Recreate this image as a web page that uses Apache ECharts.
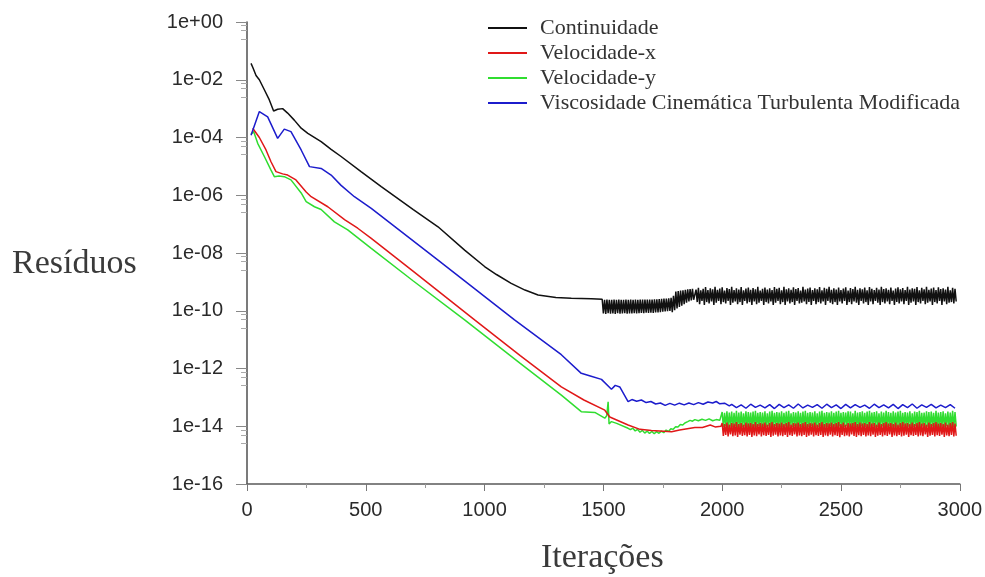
<!DOCTYPE html>
<html>
<head>
<meta charset="utf-8">
<script src="https://cdn.jsdelivr.net/npm/echarts@6/dist/echarts.min.js"></script>
<style>html,body{margin:0;padding:0;background:#fff}#chart{width:985px;height:577px}</style>
</head>
<body>
<div id="chart"></div>
<script>
// ---------- DATA ----------
const seriesNames = ['Continuidade', 'Velocidade-x', 'Velocidade-y', 'Viscosidade Cinemática Turbulenta Modificada'];
const xTicks = [0, 500, 1000, 1500, 2000, 2500, 3000];

// Continuidade
const contEarly = [[17,3.7e-2],[25,2.6e-2],[38,1.4e-2],[52,1.0e-2],[73,4.5e-3],[94,2.0e-3],[112,8.3e-4],[129,9.5e-4],[150,1.0e-3],[171,7.0e-4],[199,4.0e-4],[228,2.1e-4],[256,1.4e-4],[312,7.2e-5],[354,3.9e-5],[396,2.2e-5],[480,6.6e-6],[565,2.0e-6],[700,3.2e-7],[804,8.1e-8],[916,1.26e-8],[1000,3.4e-9],[1050,1.8e-9],[1112,8.9e-10],[1170,5.2e-10],[1225,3.5e-10],[1300,2.9e-10],[1365,2.7e-10],[1450,2.6e-10],[1495,2.5e-10]];
// iterations 1500..1795, every 5 (values ×1e-10)
const contBandA = [0.80,2.4,0.78,2.45,0.82,2.4,0.79,2.38,0.81,2.42,
  0.78,2.4,0.83,2.44,0.79,2.4,0.80,2.38,0.82,2.42,
  0.79,2.4,0.81,2.45,0.80,2.4,0.83,2.42,0.81,2.4,
  0.82,2.44,0.84,2.42,0.82,2.45,0.85,2.43,0.84,2.46,
  0.86,2.45,0.84,2.48,0.87,2.5,0.88,2.55,0.90,2.6,
  0.92,2.62,0.94,2.65,0.96,2.7,0.98,2.8,0.90,3.3];
// iterations 1800..1880, every 5 (×1e-10)
const contRamp = [1.05,4.6,1.2,4.8,1.35,5.0,1.5,5.1,1.7,5.3,1.9,5.5,2.1,5.6,2.3,5.8,2.4];
// iterations 1890..2985, every 5 (×1e-10)
const contBandC = [5.4,2.0,6.2,1.7,5.1,2.2,5.8,1.6,6.6,2.0,5.2,1.8,6.0,2.1,5.5,1.6,6.7,1.9,5.3,2.2,
  5.9,1.7,6.5,2.0,5.0,1.8,6.1,2.2,5.6,1.6,6.8,1.9,5.2,2.1,6.0,1.7,5.4,2.0,6.6,1.6,
  5.1,2.2,5.9,1.8,6.4,2.0,5.3,1.6,6.1,2.1,5.5,1.7,6.7,1.9,5.0,2.2,5.8,1.6,6.3,2.0,
  5.4,1.8,6.0,2.1,5.2,1.6,6.6,1.9,5.7,2.2,6.2,1.7,5.1,2.0,6.8,1.6,5.5,2.1,6.0,1.8,
  5.3,2.0,6.5,1.6,5.6,2.2,6.1,1.8,5.0,1.9,6.7,2.1,5.4,1.7,5.9,2.0,6.3,1.6,5.2,2.2,
  6.0,1.7,5.5,2.0,6.6,1.8,5.1,2.1,6.2,1.6,5.7,2.2,6.8,1.9,5.3,1.7,6.0,2.0,5.4,1.6,
  6.4,2.1,5.2,1.8,5.9,2.2,6.5,1.6,5.0,2.0,6.1,1.7,5.6,2.1,6.7,1.9,5.3,1.6,6.0,2.2,
  5.5,1.8,6.3,2.0,5.1,1.6,6.6,2.1,5.8,1.7,5.2,2.2,6.2,1.9,5.4,1.6,6.8,2.0,5.6,1.8,
  6.0,2.1,5.3,1.7,6.4,2.2,5.0,1.6,5.9,2.0,6.5,1.8,5.5,2.1,6.1,1.7,5.2,2.2,6.7,1.6,
  5.4,1.9,6.0,2.1,5.7,1.6,6.6,2.0,5.1,1.8,6.2,2.2,5.5,1.7,6.8,1.9,5.3,2.1,5.9,1.6,
  6.3,2.0,5.2,1.8,6.5,2.2,5.6,1.6,6.0,2.1,5.4,1.7,6.7,1.9,5.1,2.0,6.2,1.8,5.8,2.1];

// Velocidade-x
const velXEarly = [[24,2.1e-4],[31,2.2e-4],[52,1.0e-4],[80,3.7e-5],[101,1.45e-5],[122,6.6e-6],[150,5.5e-6],[171,5.0e-6],[206,3.4e-6],[249,1.3e-6],[270,8.9e-7],[340,4.0e-7],[412,1.4e-7],[466,7.2e-8],[523,3.2e-8],[700,2.3e-9],[958,4.8e-11],[1150,2.8e-12],[1323,2.3e-13],[1418,8.1e-14],[1506,3.6e-14],[1527,2.1e-14],[1604,1.1e-14],[1654,7.8e-15],[1702,7.1e-15],[1787,6.5e-15],[1821,7.4e-15],[1885,9.1e-15],[1917,9.0e-15],[1950,1.1e-14],[1970,9.5e-15],[1995,1.0e-14]];
// iterations 2000..2985, every 5 (×1e-15)
const velXBand = [13,4.6,12,5.0,13.5,4.4,11.5,5.2,13,4.5,12.5,4.8,14,4.3,12,5.1,13,4.6,11.5,4.9,
  13.5,4.4,12.5,5.0,13,4.3,12,4.8,14,4.5,12,5.2,13,4.4,12.5,4.9,13.5,4.6,11.5,5.0,
  13,4.3,14,4.7,12,5.1,13,4.4,12.5,4.8,13.5,4.5,12,5.0,13,4.3,14,4.9,11.5,4.6,
  13,5.2,12.5,4.4,13.5,4.8,12,4.5,13,5.0,14,4.3,12,4.7,13,5.1,12.5,4.4,13.5,4.9,
  11.5,4.6,13,5.0,14,4.3,12,4.8,13,4.5,12.5,5.1,13.5,4.4,12,4.9,13,4.6,14,4.2,
  12,5.0,13.5,4.5,11.5,4.8,13,4.4,12.5,5.2,13,4.6,14,4.3,12,4.9,13.5,4.5,12.5,5.0,
  13,4.4,12,4.8,14,4.5,12.5,5.1,13,4.3,11.5,4.7,13.5,5.0,12,4.4,13,4.9,14,4.6,
  12.5,5.2,13,4.3,12,4.8,13.5,4.5,11.5,5.0,13,4.4,14,4.7,12.5,5.1,13,4.3,12,4.9,
  13.5,4.6,12,5.0,13,4.4,14,4.8,12.5,4.5,13,5.2,11.5,4.3,13.5,4.7,12,5.0,13,4.4,
  14,4.9,12.5,4.6,13,5.1,12,4.3,13.5,4.8,11.5,4.5,13,5.0,14,4.4,12.5,4.7];

// Velocidade-y
const velYEarly = [[17,1.3e-4],[28,1.6e-4],[45,6.3e-5],[73,2.2e-5],[101,7.4e-6],[115,4.4e-6],[135,4.6e-6],[157,4.4e-6],[185,3.4e-6],[228,1.2e-6],[249,6.0e-7],[284,4.0e-7],[312,3.2e-7],[368,1.2e-7],[424,6.3e-8],[523,1.45e-8],[700,1.07e-9],[916,4.8e-11],[1150,1.5e-12],[1323,1.2e-13],[1407,3.2e-14],[1464,3.0e-14],[1506,1.9e-14],[1514,2.3e-14],[1520,7.0e-14],[1524,1.2e-14],[1534,1.45e-14],[1556,1.26e-14],[1604,8.5e-15],
  [1614,7.6e-15],[1624,8.6e-15],[1634,6.9e-15],[1644,7.8e-15],[1654,6.2e-15],[1664,7.2e-15],[1674,5.8e-15],[1684,6.8e-15],[1694,5.6e-15],[1704,6.6e-15],[1714,5.5e-15],[1724,6.5e-15],[1734,5.7e-15],[1744,6.8e-15],[1754,6.0e-15],[1764,7.4e-15],[1774,6.6e-15],[1784,8.2e-15],[1794,7.8e-15],[1804,9.6e-15],[1814,9.4e-15],[1824,1.15e-14],[1834,1.1e-14],[1843,1.3e-14],[1855,1.45e-14],[1865,1.6e-14],[1875,1.5e-14],[1885,1.7e-14],[1900,1.55e-14],[1915,1.75e-14],[1930,1.6e-14],[1945,1.8e-14],[1960,1.55e-14],[1975,1.7e-14],[1990,1.6e-14]];
// iterations 2000..2985, every 5 (×1e-15)
const velYBand = [31,9.2,29,10,33,8.8,30,9.6,32,9.0,29,9.8,34,8.7,30,9.4,32,9.1,28,9.9,
  33,8.9,31,9.5,30,8.6,32,9.7,34,9.0,29,10,31,8.8,30,9.6,33,9.2,28,9.8,
  32,8.7,34,9.4,29,10,31,8.9,30,9.5,33,9.1,29,9.9,32,8.6,34,9.7,28,9.3,
  31,10,30,8.8,33,9.6,29,9.0,32,9.8,34,8.7,29,9.5,31,10,30,8.9,33,9.4,
  28,9.2,32,9.9,34,8.6,29,9.7,31,9.1,30,10,33,8.8,29,9.6,32,9.0,34,9.8,
  29,8.7,31,9.5,30,10,33,8.9,32,9.3,28,9.7,34,9.0,30,8.6,31,9.9,33,9.2,
  29,9.4,32,8.8,34,9.6,30,10,31,8.9,33,9.5,28,9.1,32,9.8,30,8.7,34,9.3,
  31,10,29,8.6,33,9.7,30,9.0,32,9.4,34,8.8,29,9.9,31,9.2,30,9.6,33,8.9,
  28,9.5,32,10,31,8.7,34,9.3,29,9.8,30,9.0,33,9.6,31,8.8,32,9.9,29,9.1,
  34,9.4,30,8.6,31,9.7,33,9.0,28,10,32,8.9,30,9.5,34,9.2,31,9.8];

// Viscosidade Cinemática Turbulenta Modificada
const viscEarly = [[17,1.2e-4],[52,7.9e-4],[87,5.2e-4],[129,9.3e-5],[157,1.95e-4],[185,1.6e-4],[228,3.7e-5],[263,9.8e-6],[312,8.5e-6],[354,5.0e-6],[396,2.2e-6],[452,8.9e-7],[523,3.5e-7],[800,6.0e-9],[1126,4.8e-11],[1323,3.0e-12],[1407,6.8e-13],[1445,5.5e-13],[1492,4.2e-13],[1534,1.9e-13],[1550,2.6e-13],[1569,2.3e-13],[1604,7.1e-14],
  [1620,8.4e-14],[1640,7.3e-14],[1660,8.1e-14],[1680,6.6e-14],[1700,7.2e-14],[1720,5.9e-14],[1740,6.4e-14],[1760,5.3e-14],[1780,6.2e-14],[1800,5.4e-14],[1820,6.3e-14],[1840,5.5e-14],[1860,6.4e-14],[1880,5.6e-14],[1900,6.6e-14],[1920,5.8e-14],[1940,6.9e-14],[1960,6.4e-14],[1975,7.2e-14],[1990,6.0e-14],[2010,6.3e-14],[2030,5.1e-14]];
// iterations 2040..2980, every 20 (×1e-14)
const viscBand = [5.7,4.4,5.5,4.2,5.8,4.5,5.4,4.3,5.6,4.1,
  5.7,4.4,5.5,4.2,5.9,4.3,5.4,4.5,5.6,4.2,
  5.8,4.4,5.5,4.1,5.7,4.3,5.6,4.5,5.4,4.2,
  5.8,4.4,5.5,4.3,5.7,4.1,5.6,4.4,5.9,4.2,
  5.5,4.5,5.7,4.3,5.4,4.4,5.6,4.2];

// ---------- BUILD ----------
function seg(start, step, unit, vals) { return vals.map((v, i) => [start + i * step, v * unit]); }
const contData = contEarly.concat(seg(1500, 5, 1e-10, contBandA), seg(1800, 5, 1e-10, contRamp), seg(1890, 5, 1e-10, contBandC));
const velXData = velXEarly.concat(seg(2000, 5, 1e-15, velXBand));
const velYData = velYEarly.concat(seg(2000, 5, 1e-15, velYBand));
const viscData = viscEarly.concat(seg(2040, 20, 1e-14, viscBand));

const colors = ['#111111', '#e01818', '#30dd30', '#1c1ccc'];

function expLabel(v) {
  const e = Math.round(Math.log10(v));
  const a = Math.abs(e);
  return '1e' + (e < 0 ? '-' : '+') + (a < 10 ? '0' + a : '' + a);
}

const chart = echarts.init(document.getElementById('chart'), null, { renderer: 'canvas' });
const mkSeries = (name, data, color, z) => ({
  name, type: 'line', data, symbol: 'none', showSymbol: false, smooth: false,
  animation: false, z,
  lineStyle: { color, width: 1.5 }, itemStyle: { color }
});

chart.setOption({
  animation: false,
  backgroundColor: '#ffffff',
  grid: { left: 247, right: 24, top: 22, bottom: 93, containLabel: false },
  legend: {
    orient: 'vertical', left: 488, top: 17, padding: 0,
    icon: 'rect', itemWidth: 39, itemHeight: 2, itemGap: 3,
    data: seriesNames,
    textStyle: { fontFamily: 'Liberation Serif', fontSize: 22, color: '#333', lineHeight: 22, padding: [0, 0, 0, 8] }
  },
  xAxis: {
    type: 'value', min: xTicks[0], max: xTicks[xTicks.length - 1], interval: 500,
    axisLine: { lineStyle: { color: '#5a5a5a', width: 1.6 } },
    axisTick: { show: true, length: 7, lineStyle: { color: '#777', width: 1 } },
    minorTick: { show: true, splitNumber: 2, length: 4, lineStyle: { color: '#999' } },
    splitLine: { show: false },
    axisLabel: { fontFamily: 'Liberation Sans', fontSize: 20, color: '#2a2a2a', margin: 16, formatter: (v) => String(v) }
  },
  yAxis: {
    type: 'log', logBase: 100, min: 1e-16, max: 1,
    axisLine: { show: true, lineStyle: { color: '#5a5a5a', width: 1.6 } },
    axisTick: { show: true, length: 11, lineStyle: { color: '#888', width: 1 } },
    minorTick: { show: true, splitNumber: 4, length: 6, lineStyle: { color: '#aaa' } },
    splitLine: { show: false },
    minorSplitLine: { show: false },
    axisLabel: { fontFamily: 'Liberation Sans', fontSize: 20, color: '#2a2a2a', margin: 24, formatter: expLabel }
  },
  graphic: [
    { type: 'text', left: 12, top: 247, style: { text: 'Resíduos', font: '34px "Liberation Serif"', fill: '#3a3a3a' } },
    { type: 'text', left: 541, top: 541, style: { text: 'Iterações', font: '34px "Liberation Serif"', fill: '#3a3a3a' } }
  ],
  series: [
    mkSeries(seriesNames[0], contData, colors[0], 2),
    mkSeries(seriesNames[1], velXData, colors[1], 4),
    mkSeries(seriesNames[2], velYData, colors[2], 3),
    mkSeries(seriesNames[3], viscData, colors[3], 5)
  ]
});
</script>
</body>
</html>
